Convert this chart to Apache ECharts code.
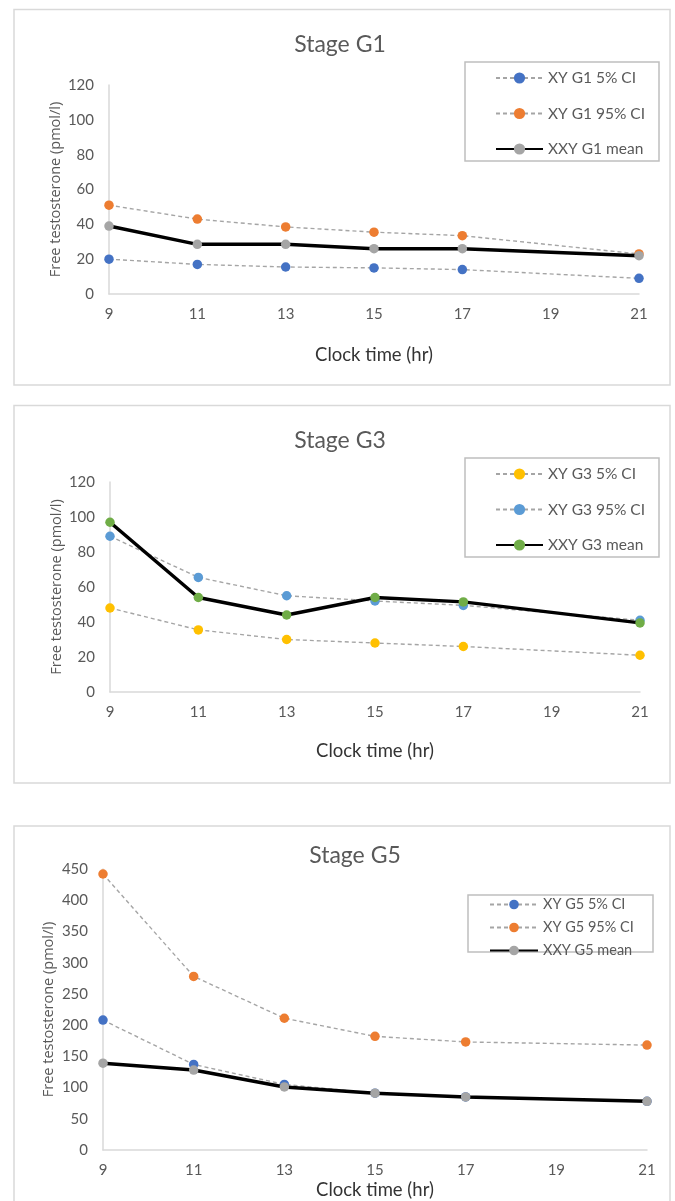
<!DOCTYPE html>
<html>
<head>
<meta charset="utf-8">
<script src="https://cdn.jsdelivr.net/npm/echarts@6/dist/echarts.min.js"></script>
<style>
html,body{margin:0;padding:0;background:#fff;}
#chart{width:675px;height:1201px;}
</style>
</head>
<body>
<div id="chart"></div>
<script>
// Categories (clock time, hr); 19 has no measurement
const hours = ['9', '11', '13', '15', '17', '19', '21'];

// Stage G1
const g1Names = ['XY G1 5% CI', 'XY G1 95% CI', 'XXY G1 mean'];
const g1Low  = [20, 17, 15.5, 15, 14, '-', 9];
const g1High = [51, 43, 38.5, 35.5, 33.5, '-', 23];
const g1Mean = [39, 28.5, 28.5, 26, 26, '-', 22];

// Stage G3
const g3Names = ['XY G3 5% CI', 'XY G3 95% CI', 'XXY G3 mean'];
const g3Low  = [48, 35.5, 30, 28, 26, '-', 21];
const g3High = [89, 65.5, 55, 52, 49.5, '-', 41];
const g3Mean = [97, 54, 44, 54, 51.5, '-', 39.5];

// Stage G5
const g5Names = ['XY G5 5% CI', 'XY G5 95% CI', 'XXY G5 mean'];
const g5Low  = [208, 137, 105, 91, 85, '-', 78];
const g5High = [442, 278, 211, 182, 173, '-', 168];
const g5Mean = [139, 128, 101, 91, 85, '-', 78];

const titles = ['Stage G1', 'Stage G3', 'Stage G5'];
const yTicksSmall = {min: 0, max: 120, interval: 20};
const yTicksLarge = {min: 0, max: 450, interval: 50};

const FONT = 'Lato, "Liberation Sans", sans-serif';
const TXT = '#595959';
const AXIS = '#d9d9d9';
const DASH = '#a5a5a5';

const panels = [
  {names: g1Names, low: g1Low, high: g1High, mean: g1Mean,
   colors: ['#4472c4', '#ed7d31', '#a5a5a5'],
   grid: {left: 109, top: 85, width: 530, height: 209}, y: yTicksSmall,
   title: {x: 335, y: 28}, yGap: 46, xGap: 52,
   box: [14, 9.5, 656, 375.5],
   legBox: [465, 62, 194, 99], leg: {left: 495, top: 70, iw: 47, ih: 14, gap: 19.5, fs: 15.5}},
  {names: g3Names, low: g3Low, high: g3High, mean: g3Mean,
   colors: ['#ffc000', '#5b9bd5', '#70ad47'],
   grid: {left: 110, top: 482, width: 530, height: 210}, y: yTicksSmall,
   title: {x: 335, y: 424}, yGap: 46, xGap: 50,
   box: [14, 405.5, 656, 377.5],
   legBox: [465, 458, 194, 99], leg: {left: 495, top: 466, iw: 47, ih: 14, gap: 19.5, fs: 15.5}},
  {names: g5Names, low: g5Low, high: g5High, mean: g5Mean,
   colors: ['#4472c4', '#ed7d31', '#a5a5a5'],
   grid: {left: 103, top: 869, width: 544, height: 284}, y: yTicksLarge,
   title: {x: 350, y: 839}, yGap: 47, xGap: 31,
   box: [14, 826, 656, 400],
   legBox: [468, 895, 185, 57], leg: {left: 489, top: 897, iw: 48, ih: 12, gap: 8, fs: 14.5}}
];

const option = {
  backgroundColor: '#fff',
  animation: false,
  title: [], grid: [], xAxis: [], yAxis: [], legend: [], series: [], graphic: []
};

panels.forEach((p, i) => {
  option.graphic.push({
    type: 'rect', shape: {x: p.box[0], y: p.box[1], width: p.box[2], height: p.box[3]},
    style: {fill: 'none', stroke: AXIS, lineWidth: 1.5}, z: -10
  });
  option.graphic.push({
    type: 'rect', shape: {x: p.legBox[0], y: p.legBox[1], width: p.legBox[2], height: p.legBox[3]},
    style: {fill: 'none', stroke: '#bfbfbf', lineWidth: 1.5}, z: -5
  });
  option.title.push({
    text: titles[i], left: p.title.x, top: p.title.y, textAlign: 'center',
    textStyle: {fontFamily: FONT, fontSize: 23, fontWeight: 'normal', color: TXT}
  });
  option.grid.push(p.grid);
  option.xAxis.push({
    type: 'category', gridIndex: i, data: hours, boundaryGap: false,
    name: 'Clock time (hr)', nameLocation: 'middle', nameGap: p.xGap,
    nameMoveOverlap: false,
    nameTextStyle: {fontFamily: FONT, fontSize: 18.5, color: '#333'},
    axisLine: {show: true, lineStyle: {color: AXIS, width: 1.5}},
    axisTick: {show: false},
    axisLabel: {fontFamily: FONT, fontSize: 15, color: TXT, margin: 13, interval: 0},
    splitLine: {show: false}
  });
  option.yAxis.push({
    type: 'value', gridIndex: i, min: p.y.min, max: p.y.max, interval: p.y.interval,
    name: 'Free testosterone (pmol/l)', nameLocation: 'middle', nameGap: p.yGap,
    nameMoveOverlap: false,
    nameTextStyle: {fontFamily: '"Open Sans", sans-serif', fontSize: 14.5, color: TXT},
    axisLine: {show: true, lineStyle: {color: AXIS, width: 1.5}},
    axisTick: {show: false},
    axisLabel: {fontFamily: FONT, fontSize: 15, color: TXT, margin: 15},
    splitLine: {show: false}
  });
  option.legend.push({
    orient: 'vertical', left: p.leg.left, top: p.leg.top,
    itemWidth: p.leg.iw, itemHeight: p.leg.ih, itemGap: p.leg.gap, padding: 0,
    data: p.names,
    textStyle: {fontFamily: FONT, fontSize: p.leg.fs, color: TXT}
  });
  const vals = [p.low, p.high, p.mean];
  vals.forEach((d, k) => {
    const isMean = k === 2;
    option.series.push({
      type: 'line', name: p.names[k], xAxisIndex: i, yAxisIndex: i,
      data: d, connectNulls: true,
      symbol: 'circle', symbolSize: 9.5,
      itemStyle: {color: p.colors[k]},
      lineStyle: isMean ? {color: '#000', width: 3.5} : {color: DASH, width: 1.4, type: [4, 3]},
      z: isMean ? 3 : 2
    });
  });
});

const chart = echarts.init(document.getElementById('chart'), null, {renderer: 'canvas'});
chart.setOption(option);
</script>
</body>
</html>
